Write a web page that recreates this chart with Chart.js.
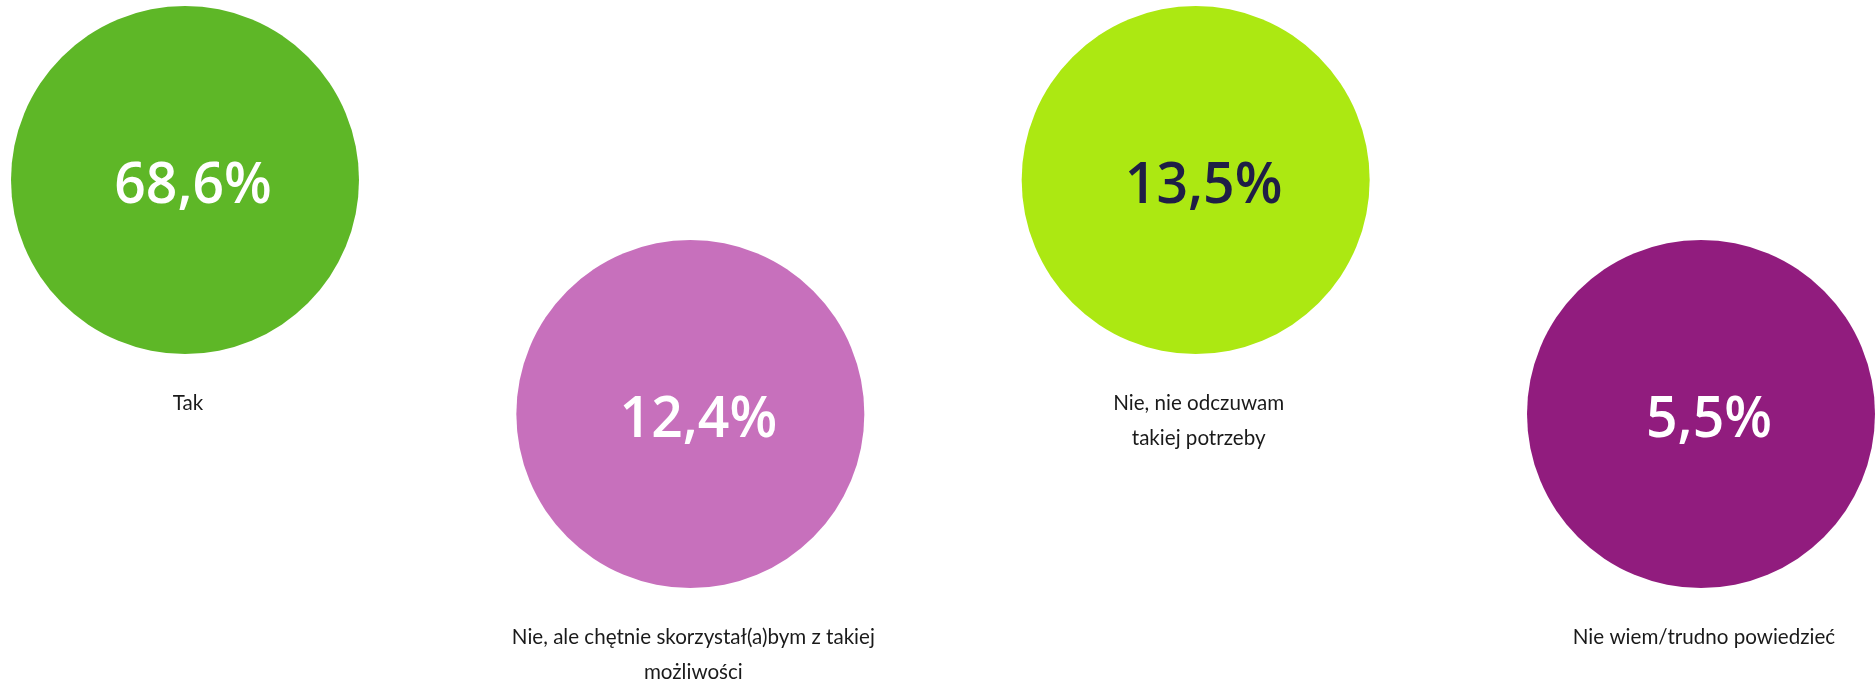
<!DOCTYPE html>
<html lang="pl">
<head>
<meta charset="utf-8">
<title>Odpowiedzi</title>
<script src="https://cdn.jsdelivr.net/npm/chart.js@4/dist/chart.umd.min.js"></script>
<style>
  html, body { margin: 0; padding: 0; background: #ffffff; }
  #wrap { position: relative; width: 1875px; height: 681px; }
</style>
</head>
<body>
<div id="wrap"><canvas id="bubbles"></canvas></div>
<script>
// ---- Dane ----
const categories = [
  ['Tak'],
  ['Nie, ale chętnie skorzystał(a)bym z takiej', 'możliwości'],
  ['Nie, nie odczuwam', 'takiej potrzeby'],
  ['Nie wiem/trudno powiedzieć']
];
const values = [68.6, 12.4, 13.5, 5.5];

// ---- Wygląd ----
const fillColors = ['#5eb727', '#c770bc', '#ace812', '#911c7e'];
const valueColors = ['#ffffff', '#ffffff', '#1f1e46', '#ffffff'];
const BUBBLE_R = 174;

const formatPct = (v) => v.toFixed(1).replace('.', ',') + '%';

// tekst ściśnięty w poziomie (krój wąski)
function drawNarrow(ctx, text, x, y, sx) {
  ctx.save();
  ctx.translate(x, y);
  ctx.scale(sx, 1);
  ctx.fillText(text, 0, 0);
  ctx.restore();
}

const bubbleText = {
  id: 'bubbleText',
  afterDatasetsDraw(chart) {
    const ctx = chart.ctx;
    const meta = chart.getDatasetMeta(0);
    meta.data.forEach((pt, i) => {
      const { x, y } = pt.getProps(['x', 'y'], true);
      ctx.save();
      ctx.textAlign = 'center';
      ctx.textBaseline = 'alphabetic';

      // wartość w środku koła
      ctx.fillStyle = valueColors[i];
      ctx.font = '600 57px "Open Sans", sans-serif';
      drawNarrow(ctx, formatPct(values[i]), x + 8, y + 23, 0.97);

      // podpis pod kołem
      ctx.fillStyle = '#1a1a1a';
      ctx.font = '400 21px Lato, sans-serif';
      categories[i].forEach((line, j) => {
        drawNarrow(ctx, line, x + 3, y + BUBBLE_R + 56 + j * 35, 0.98);
      });
      ctx.restore();
    });
  }
};

const ctx = document.getElementById('bubbles').getContext('2d');

new Chart(ctx, {
  type: 'bubble',
  data: {
    datasets: [{
      data: values.map((v, i) => ({ x: i, y: i % 2 === 0 ? 1 : 0 })),
      backgroundColor: fillColors,
      borderWidth: 0,
      radius: BUBBLE_R,
      hoverRadius: 0,
      clip: false
    }]
  },
  options: {
    responsive: true,
    maintainAspectRatio: false,
    animation: false,
    events: [],
    layout: {
      padding: { left: 185, right: 169, top: 180, bottom: 267 }
    },
    scales: {
      x: { type: 'linear', min: 0, max: 3, display: false },
      y: { type: 'linear', min: 0, max: 1, display: false }
    },
    plugins: {
      legend: { display: false },
      tooltip: { enabled: false }
    }
  },
  plugins: [bubbleText]
});
</script>
</body>
</html>
